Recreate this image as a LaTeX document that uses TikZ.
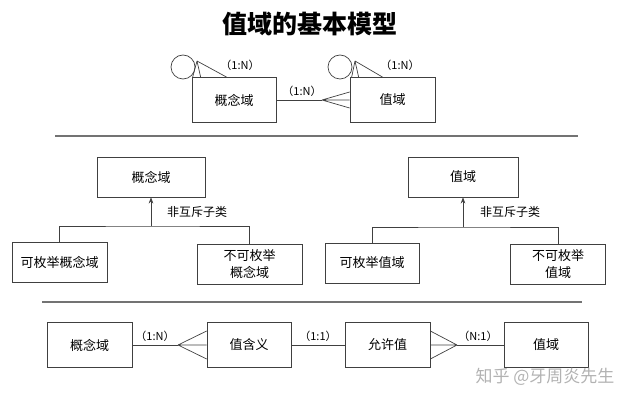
\documentclass[tikz,border=0pt]{standalone}
\usepackage{fontspec}
\newfontfamily\cjk{Noto Sans CJK SC}
\usetikzlibrary{arrows.meta}
\tikzset{>=Stealth}
\tikzset{%
    conn/.style={draw=black!75, line width=0.7pt},
    sepline/.style={draw=black!55, line width=1.2pt},
    box/.style={%
        conn, fill=white, minimum width=#1, minimum height=45pt,
        inner sep=1pt, align=center,
        font=\cjk\fontsize{13}{17}\selectfont},
    sbox/.style={box=#1, minimum height=40pt},
    card/.style={font=\cjk\fontsize{11}{13}\selectfont, inner sep=1pt},
    rel/.style={font=\cjk\fontsize{12}{14}\selectfont, inner sep=1pt}
}

\begin{document}
\begin{tikzpicture}[x=1pt,y=-1pt]
  \useasboundingbox (0,0) rectangle (640,403);
  \node[font=\cjk\bfseries\fontsize{25}{27}\selectfont] (title) at (310,24) {值域的基本模型};
  \draw[conn] (183,67) circle (12);
  \draw[conn] (340,67) circle (12);
  \node[box=84pt] (kTop) at (234,100) {概念域};
  \node[box=85pt] (vTop) at (392.5,100) {值域};
  \coordinate (kLoop) at (197,61);
  \coordinate (vLoop) at (355,61);
  \draw[conn] (kLoop) -- ([xshift=1]kTop.north west) (kLoop) -- ([xshift=9]kTop.north west) (kLoop) -- ([xshift=35]kTop.north west);
  \draw[conn] (vLoop) -- ([xshift=2]vTop.north west) (vLoop) -- ([xshift=9]vTop.north west) (vLoop) -- ([xshift=33]vTop.north west);
  \coordinate (topFoot) at (322,100);
  \draw[conn] (kTop.east) -- (topFoot);
  \draw[conn] (topFoot) -- ([yshift=8]vTop.west) (topFoot) -- (vTop.west) (topFoot) -- ([yshift=-8]vTop.west);
  \node[card] (kLoopCard) at (240,65) {（1:N）};
  \node[card] (vLoopCard) at (400,65) {（1:N）};
  \node[card] (topCard) at (302,91) {（1:N）};
  \draw[sepline] (55,136) -- (578,136);
  \node[sbox=108pt] (kMid) at (151,177) {概念域};
  \node[sbox=95pt] (kEnum) at (59.5,262.5) {可枚举概念域};
  \node[sbox=105pt] (kNon) at (249.5,264.5) {不可枚举\\概念域};
  \coordinate (kJoin) at (151,226);
  \draw[conn] (kEnum.north) |- (kJoin) -| (kNon.north);
  \draw[conn,->] (kJoin) -- (kMid.south);
  \node[rel] (kRel) at (197,212) {非互斥子类};
  \node[sbox=110pt] (vMid) at (463,177) {值域};
  \node[sbox=94pt] (vEnum) at (372,263) {可枚举值域};
  \node[sbox=95pt] (vNon) at (558,264.5) {不可枚举\\值域};
  \coordinate (vJoin) at (463,227);
  \draw[conn] (vEnum.north) |- (vJoin) -| (vNon.north);
  \draw[conn,->] (vJoin) -- (vMid.south);
  \node[rel] (vRel) at (510,212) {非互斥子类};
  \draw[sepline] (42,302) -- (582,302);
  \node[box=85pt] (kBot) at (89.5,345) {概念域};
  \node[box=84pt] (mBot) at (249,345) {值含义};
  \node[box=85pt] (aBot) at (387.5,345) {允许值};
  \node[box=84pt] (vBot) at (546,345) {值域};
  \coordinate (mFoot) at (178,345);
  \coordinate (aFoot) at (457,345);
  \draw[conn] (kBot.east) -- (mFoot);
  \draw[conn] (mFoot) -- ([yshift=14]mBot.west) (mFoot) -- (mBot.west) (mFoot) -- ([yshift=-14]mBot.west);
  \draw[conn] (mBot.east) -- (aBot.west);
  \draw[conn] (aFoot) -- ([yshift=14]aBot.east) (aFoot) -- (aBot.east) (aFoot) -- ([yshift=-14]aBot.east);
  \draw[conn] (aFoot) -- (vBot.west);
  \node[card] (mCard) at (155,336) {（1:N）};
  \node[card] (aCard) at (318,336) {（1:1）};
  \node[card] (vCard) at (478,336) {（N:1）};
  \node[text=black!30, font=\cjk\fontsize{17}{17}\selectfont] (mark) at (545,377) {知乎 @牙周炎先生};
\end{tikzpicture}
\end{document}
